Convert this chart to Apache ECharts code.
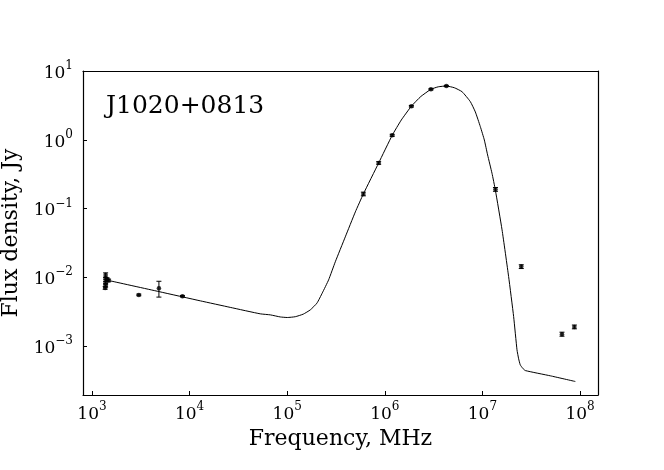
<!DOCTYPE html>
<html>
<head>
<meta charset="utf-8">
<script src="https://cdn.jsdelivr.net/npm/echarts@6/dist/echarts.min.js"></script>
<style>html,body{margin:0;padding:0;background:#fff}#c{width:664px;height:470px}</style>
</head>
<body>
<div id="c"></div>
<script>
// Measured points: frequency (MHz), flux density (Jy), error (Jy)
const obsFreq = [1380, 1380, 1380, 1380, 1365, 1480, 1430, 3020, 4850, 8450, 603000, 865000, 1190000, 1870000, 2970000, 4270000, 13600000, 25000000, 65300000, 87500000];
const obsFlux = [0.0108, 0.0096, 0.0084, 0.0075, 0.0070, 0.0090, 0.0094, 0.00554, 0.00695, 0.0053, 0.163, 0.46, 1.16, 3.07, 5.42, 6.05, 0.19, 0.0143, 0.00149, 0.0019];
const obsErr = [0.0008, 0.0004, 0.0003, 0.0003, 0.0003, 0.0004, 0.0004, 0.00015, 0.0018, 0.00012, 0.01, 0.02, 0.04, 0.08, 0.12, 0.12, 0.012, 0.0009, 0.0001, 0.00012];

// Model curve
const modelFreq = [1540, 4853, 12900, 26100, 52970, 67100, 84900, 100200, 121000, 146000, 172600, 201800, 229000, 265600, 311000, 393600, 499000, 603000, 865000, 1190000, 1476000, 1870000, 2340000, 2970000, 3530000, 4270000, 5150000, 6180000, 7520000, 8460000, 9520000, 10460000, 11300000, 12530000, 13560000, 15890000, 18550000, 20880000, 22600000, 23500000, 24400000, 25900000, 27500000, 49600000, 89500000];
const modelFlux = [0.00887, 0.00619, 0.00454, 0.00365, 0.00294, 0.00284, 0.00265, 0.00260, 0.00267, 0.00291, 0.00336, 0.00421, 0.00593, 0.00917, 0.0168, 0.0387, 0.0893, 0.163, 0.46, 1.16, 1.94, 3.07, 4.26, 5.42, 5.89, 6.05, 5.71, 5.0, 3.58, 2.54, 1.55, 0.993, 0.601, 0.326, 0.186, 0.0489, 0.01023, 0.00268, 0.000881, 0.000652, 0.000533, 0.000474, 0.00044, 0.000369, 0.000305];

// Tick exponents (decades)
const xTickExp = [3, 4, 5, 6, 7, 8];
const yTickExp = [-3, -2, -1, 0, 1];
const xRange = [2.908, 8.184];
const yRange = [-3.712, 1.0];

const L = Math.log10;
const FONT = 'DejaVu Serif';

function decadeLabel(v) {
  const e = Math.round(v);
  const s = e < 0 ? '\u2212' + Math.abs(e) : String(e);
  return '{b|10}{e|' + s + '}';
}
const rich = {
  b: {fontFamily: FONT, fontSize: 17, color: '#000', lineHeight: 22, verticalAlign: 'bottom'},
  e: {fontFamily: FONT, fontSize: 12, color: '#000', lineHeight: 14, verticalAlign: 'top'}
};

const pts = obsFreq.map((f, i) => [L(f), L(obsFlux[i])]);
const errs = obsFreq.map((f, i) => [L(f), L(obsFlux[i]), L(obsFlux[i] - obsErr[i]), L(obsFlux[i] + obsErr[i])]);
const model = modelFreq.map((f, i) => [L(f), L(modelFlux[i])]);

const chart = echarts.init(document.getElementById('c'), null, {renderer: 'canvas'});
chart.setOption({
  animation: false,
  backgroundColor: '#fff',
  title: {
    text: 'J1020+0813', left: 101, top: 89,
    textStyle: {fontFamily: FONT, fontSize: 25, fontWeight: 'normal', color: '#000'}
  },
  grid: {left: 83, right: 66, top: 71, bottom: 75, containLabel: false, outerBoundsMode: 'none'},
  xAxis: [{
    type: 'value', position: 'bottom', min: xRange[0], max: xRange[1],
    name: 'Frequency, MHz', nameLocation: 'middle', nameGap: 22,
    nameTextStyle: {fontFamily: FONT, fontSize: 22, color: '#000'},
    axisLine: {show: true, onZero: false, lineStyle: {color: '#000', width: 1.2}},
    axisTick: {show: true, inside: true, length: 4, customValues: xTickExp, lineStyle: {color: '#000', width: 1}},
    axisLabel: {show: true, customValues: xTickExp, margin: 6, formatter: decadeLabel, rich: rich},
    splitLine: {show: false}
  }, {
    type: 'value', position: 'top', min: xRange[0], max: xRange[1],
    axisLine: {show: true, onZero: false, lineStyle: {color: '#000', width: 1.2}},
    axisTick: {show: false}, axisLabel: {show: false}, splitLine: {show: false}
  }],
  yAxis: [{
    type: 'value', position: 'left', min: yRange[0], max: yRange[1],
    name: 'Flux density, Jy', nameLocation: 'middle', nameGap: 49,
    nameTextStyle: {fontFamily: FONT, fontSize: 22, color: '#000'},
    axisLine: {show: true, onZero: false, lineStyle: {color: '#000', width: 1.2}},
    axisTick: {show: true, inside: true, length: 4, customValues: yTickExp, lineStyle: {color: '#000', width: 1}},
    axisLabel: {show: true, customValues: yTickExp, margin: 10, formatter: decadeLabel, rich: rich},
    splitLine: {show: false}
  }, {
    type: 'value', position: 'right', min: yRange[0], max: yRange[1],
    axisLine: {show: true, onZero: false, lineStyle: {color: '#000', width: 1.2}},
    axisTick: {show: false}, axisLabel: {show: false}, splitLine: {show: false}
  }],
  series: [{
    type: 'line', data: model, showSymbol: false, symbol: 'none', smooth: 0.15,
    lineStyle: {color: '#000', width: 1}, z: 2
  }, {
    type: 'custom', data: errs, z: 3,
    renderItem: function (params, api) {
      const x = api.value(0);
      const lo = api.coord([x, api.value(2)]);
      const hi = api.coord([x, api.value(3)]);
      const w = 2.5;
      const st = {stroke: '#000', lineWidth: 1};
      return {type: 'group', children: [
        {type: 'line', shape: {x1: lo[0], y1: lo[1], x2: hi[0], y2: hi[1]}, style: st},
        {type: 'line', shape: {x1: lo[0] - w, y1: lo[1], x2: lo[0] + w, y2: lo[1]}, style: st},
        {type: 'line', shape: {x1: hi[0] - w, y1: hi[1], x2: hi[0] + w, y2: hi[1]}, style: st}
      ]};
    }
  }, {
    type: 'scatter', data: pts, symbol: 'circle', symbolSize: 4.5,
    itemStyle: {color: '#000'}, z: 4
  }]
});
</script>
</body>
</html>
